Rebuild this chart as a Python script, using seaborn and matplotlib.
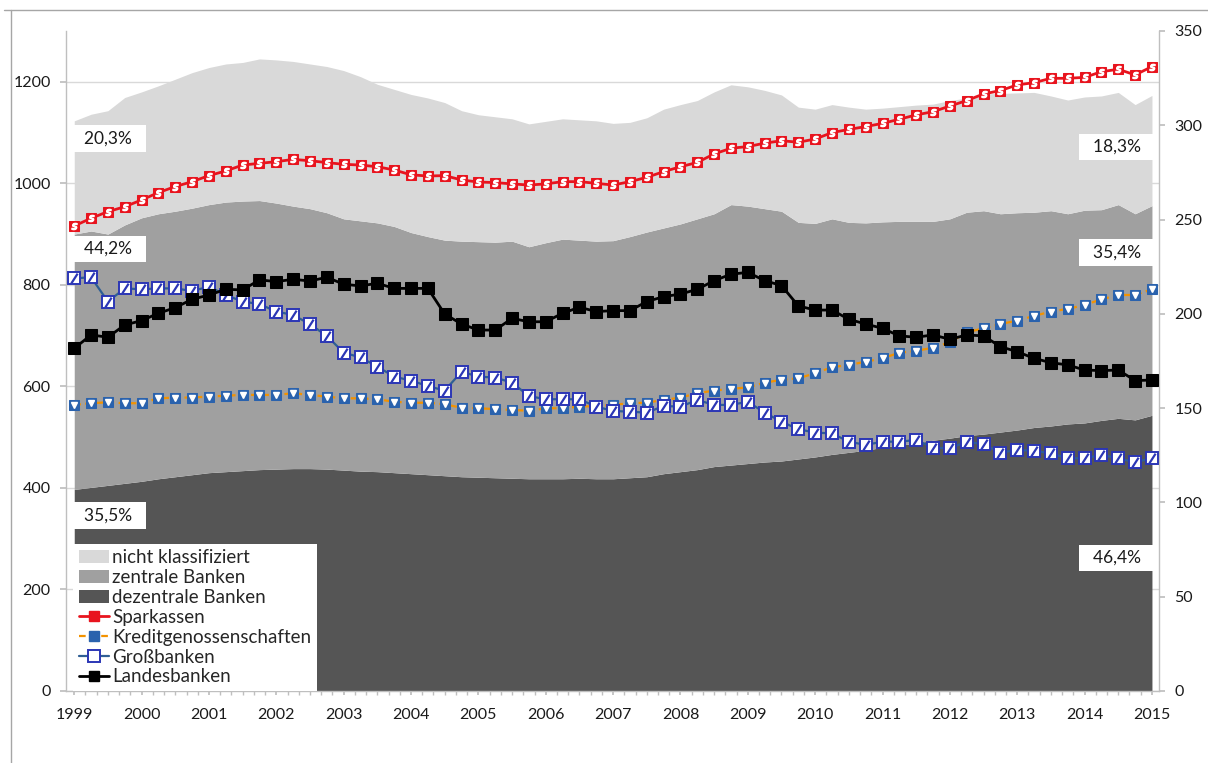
import numpy as np
import pandas as pd
import matplotlib
matplotlib.use('Agg')
import matplotlib.pyplot as plt
from matplotlib.lines import Line2D
from matplotlib.patches import Patch
from matplotlib.ticker import MultipleLocator
import seaborn as sns

# quarterly observations 1999Q1 .. 2015Q1
n_points = 65
x = 1999 + np.arange(n_points) / 4

# left axis: stacked areas
dezentrale = [397, 401, 405, 409, 413, 418, 422, 426, 430, 432, 434, 436, 437, 438, 438, 437,
              435, 433, 432, 430, 428, 426, 424, 422, 421, 420, 419, 418, 418, 418, 419, 418,
              418, 420, 422, 428, 432, 436, 442, 445, 448, 451, 453, 457, 461, 466, 470, 474,
              480, 484, 488, 494, 498, 503, 506, 510, 514, 519, 522, 526, 528, 533, 537, 534, 543]
zentrale = [503, 505, 495, 509, 519, 522, 523, 525, 528, 531, 531, 530, 524, 517, 512, 505,
            495, 493, 490, 485, 475, 469, 464, 464, 464, 464, 467, 457, 465, 472, 469, 468,
            469, 475, 482, 484, 488, 494, 498, 513, 507, 499, 492, 466, 460, 464, 453, 448,
            444, 441, 437, 431, 432, 440, 440, 430, 428, 424, 424, 414, 419, 415, 421, 406, 413]
nicht_klassifiziert = [223, 230, 243, 251, 248, 252, 260, 267, 270, 272, 273, 279, 282, 285, 285, 288,
                       292, 284, 273, 270, 272, 273, 271, 257, 250, 247, 241, 242, 239, 237, 237, 237,
                       231, 225, 225, 234, 235, 233, 240, 236, 235, 233, 229, 227, 225, 225, 227, 224,
                       224, 226, 229, 231, 233, 225, 230, 237, 236, 236, 226, 224, 223, 224, 221, 215, 217]

# right axis: lines
sparkassen = [246.6, 250.7, 254.2, 256.8, 260.4, 264.3, 267.5, 270.1, 273.3, 275.8, 278.9, 279.8,
              280.7, 281.9, 281.2, 280.2, 279.3, 278.9, 278.0, 276.3, 273.7, 273.1, 273.3, 271.0,
              269.9, 269.6, 268.9, 268.3, 268.9, 270.1, 270.1, 269.2, 268.3, 270.1, 272.4, 275.4,
              278.0, 280.3, 284.8, 287.8, 288.7, 290.5, 291.8, 291.0, 292.7, 296.1, 297.8, 299.3,
              301.0, 303.2, 305.5, 307.2, 310.2, 313.1, 316.6, 318.4, 321.4, 322.6, 324.9, 324.9,
              325.4, 328.4, 329.7, 326.7, 331.1]
kreditgenossenschaften = [151.7, 152.6, 153.1, 152.6, 152.6, 155.2, 155.6, 155.6, 156.1, 156.6, 157.0,
                          157.0, 157.0, 157.9, 157.0, 156.1, 155.2, 155.2, 154.7, 153.4, 152.8, 152.9,
                          152.0, 150.2, 149.9, 149.5, 149.0, 148.6, 149.9, 149.9, 150.8, 151.1, 151.7,
                          152.6, 152.9, 154.3, 155.6, 157.9, 159.3, 160.2, 161.0, 163.5, 165.0, 165.8,
                          168.5, 171.7, 172.9, 174.6, 176.4, 179.4, 180.3, 182.1, 184.9, 190.2, 192.3,
                          194.6, 196.4, 198.9, 201.2, 202.6, 204.7, 207.7, 210.0, 210.0, 213.0]
grossbanken = [218.8, 219.4, 206.5, 213.5, 213.0, 213.5, 213.5, 212.1, 214.4, 210.0, 206.5, 205.2,
               201.2, 199.4, 194.5, 188.3, 179.4, 176.9, 172.0, 166.7, 164.6, 161.7, 159.3, 169.3,
               166.7, 166.2, 163.5, 156.4, 154.7, 154.7, 154.7, 150.8, 148.5, 148.1, 147.6, 151.1,
               150.8, 154.3, 151.7, 151.7, 153.4, 147.6, 142.8, 138.8, 137.0, 136.6, 132.2, 130.5,
               132.2, 132.2, 133.1, 129.0, 128.7, 132.2, 130.8, 126.4, 127.8, 127.4, 126.0, 123.4,
               123.4, 125.2, 123.4, 121.3, 123.4]
landesbanken = [181.7, 188.8, 187.6, 194.1, 196.4, 200.3, 203.3, 207.7, 210.0, 213.0, 212.7, 218.0,
                217.1, 218.3, 217.4, 219.4, 215.7, 214.8, 216.2, 213.5, 213.5, 213.5, 199.9, 194.6,
                191.4, 191.4, 197.6, 195.8, 195.8, 200.3, 203.5, 201.2, 201.7, 201.7, 206.5, 209.1,
                210.5, 213.0, 217.6, 221.0, 222.0, 217.6, 215.0, 204.2, 202.0, 202.0, 197.1, 194.6,
                192.3, 188.3, 187.6, 188.8, 186.5, 188.8, 188.3, 182.6, 179.9, 176.4, 174.1, 172.9,
                170.2, 169.9, 170.2, 164.6, 164.9]

# share labels (first and last quarter)
share_start = ['20,3%', '44,2%', '35,5%']
share_end = ['18,3%', '35,4%', '46,4%']

df = pd.DataFrame({'x': x, 'Sparkassen': sparkassen, 'Kreditgenossenschaften': kreditgenossenschaften,
                   'Großbanken': grossbanken, 'Landesbanken': landesbanken})

sns.set_theme(style='white')
plt.rcParams['font.family'] = ['Lato', 'DejaVu Sans']

fig = plt.figure(figsize=(12.08, 7.63), dpi=100)
ax = fig.add_axes([0.0546, 0.0944, 0.9048, 0.865])
ax2 = ax.twinx()

grey_light, grey_mid, grey_dark = '#d9d9d9', '#a0a0a0', '#555555'
ax.stackplot(x, dezentrale, zentrale, nicht_klassifiziert,
             colors=[grey_dark, grey_mid, grey_light], linewidth=0)
ax.set_xlim(1998.877, 2015.104)
ax.set_ylim(0, 1300)
ax.set_yticks(range(0, 1201, 200))
ax.grid(axis='y', color='#d9d9d9', lw=1)
ax.set_axisbelow(True)

# lines
red, orange, vb_blue, db_blue = '#e8141e', '#f39200', '#2a62ad', '#2b36b5'
sns.lineplot(data=df, x='x', y='Sparkassen', ax=ax2, color=red, lw=2,
             marker='s', markersize=6.5, markerfacecolor=red, markeredgecolor=red, zorder=3)
ax2.plot(x, sparkassen, ls='none', marker='$s$', ms=4.5, color='white', zorder=3.1)
sns.lineplot(data=df, x='x', y='Kreditgenossenschaften', ax=ax2, color=orange, lw=1.6,
             dashes=(3, 2), marker='s', markersize=7.5, markerfacecolor=vb_blue,
             markeredgecolor=vb_blue, zorder=4)
ax2.plot(x, kreditgenossenschaften, ls='none', marker='v', ms=4, color='white', zorder=4.1)
sns.lineplot(data=df, x='x', y='Großbanken', ax=ax2, color='#2f5f94', lw=1.6,
             marker='s', markersize=9, markerfacecolor='white', markeredgecolor=db_blue,
             markeredgewidth=1.4, zorder=5)
slash = [(-0.45, -0.7), (0.45, 0.7)]
ax2.plot(x, grossbanken, ls='none', marker=slash, ms=7, mew=1.6, color=db_blue, zorder=5.1)
sns.lineplot(data=df, x='x', y='Landesbanken', ax=ax2, color='black', lw=2,
             marker='s', markersize=8.5, markerfacecolor='black', markeredgecolor='black', zorder=6)

ax2.set_ylim(0, 350)
ax2.set_yticks(range(0, 351, 50))
ax2.set_xlabel('')
ax2.set_ylabel('')
ax.set_ylabel('')

# axes styling
for a in (ax, ax2):
    for s in a.spines.values():
        s.set_visible(False)
ax.spines['left'].set_visible(True)
ax.spines['bottom'].set_visible(True)
ax2.spines['right'].set_visible(True)
for s in (ax.spines['left'], ax.spines['bottom'], ax2.spines['right']):
    s.set_color('#bfbfbf')
    s.set_linewidth(1)

ax.set_xticks(range(1999, 2016))
ax.set_xticklabels([str(y) for y in range(1999, 2016)])
ax.xaxis.set_minor_locator(MultipleLocator(1 / 6))
ax.tick_params(axis='x', which='both', direction='out', length=3, color='#bfbfbf',
               bottom=True, labelsize=11.5, pad=9, labelcolor='#1a1a1a')
ax.tick_params(axis='y', direction='out', length=4, color='#bfbfbf', left=True,
               labelsize=11.5, pad=7, labelcolor='#1a1a1a')
ax2.tick_params(axis='y', direction='out', length=4, color='#bfbfbf', right=True,
                labelsize=11.5, pad=7, labelcolor='#1a1a1a')

# share labels
box = dict(boxstyle='square,pad=0.3', facecolor='white', edgecolor='none')
for label, yv in zip(share_start, [1088, 871, 346]):
    ax2.text(1999.5, yv, '  ' + label + '  ', transform=ax.transData, ha='center', va='center',
             fontsize=12.5, color='#1a1a1a', bbox=box, zorder=10)
for label, yv in zip(share_end, [1072, 864, 262]):
    ax2.text(2014.48, yv, '  ' + label + '  ', transform=ax.transData, ha='center', va='center',
             fontsize=12.5, color='#1a1a1a', bbox=box, zorder=10)

# legend
handles = [
    Patch(facecolor=grey_light, edgecolor='none'),
    Patch(facecolor=grey_mid, edgecolor='none'),
    Patch(facecolor=grey_dark, edgecolor='none'),
    Line2D([], [], color=red, lw=2, marker='s', ms=6.5, mfc=red, mec=red),
    Line2D([], [], color=orange, lw=1.6, ls=(0, (3, 2)), marker='s', ms=7, mfc=vb_blue, mec=vb_blue),
    Line2D([], [], color='#2f5f94', lw=1.6, marker='s', ms=9, mfc='white', mec=db_blue, mew=1.4),
    Line2D([], [], color='black', lw=2, marker='s', ms=7, mfc='black', mec='black'),
]
labels = ['nicht klassifiziert', 'zentrale Banken', 'dezentrale Banken', 'Sparkassen',
          'Kreditgenossenschaften', 'Großbanken', 'Landesbanken']
leg = ax2.legend(handles, labels, loc='lower left', bbox_to_anchor=(0.0064, 0.0),
                 borderaxespad=0, frameon=True, fancybox=False, framealpha=1,
                 facecolor='white', edgecolor='none', fontsize=13.5, handlelength=1.6,
                 handletextpad=0.2, labelspacing=0.15, borderpad=0.3)
leg.set_zorder(20)

# outer frame of the original chart
fig.add_artist(Line2D([0.0091, 0.0091], [0, 0.9869], transform=fig.transFigure, color='#a6a6a6', lw=1))
fig.add_artist(Line2D([0.0033, 1], [0.9869, 0.9869], transform=fig.transFigure, color='#a6a6a6', lw=1))

fig.savefig('out.png', dpi=100)
